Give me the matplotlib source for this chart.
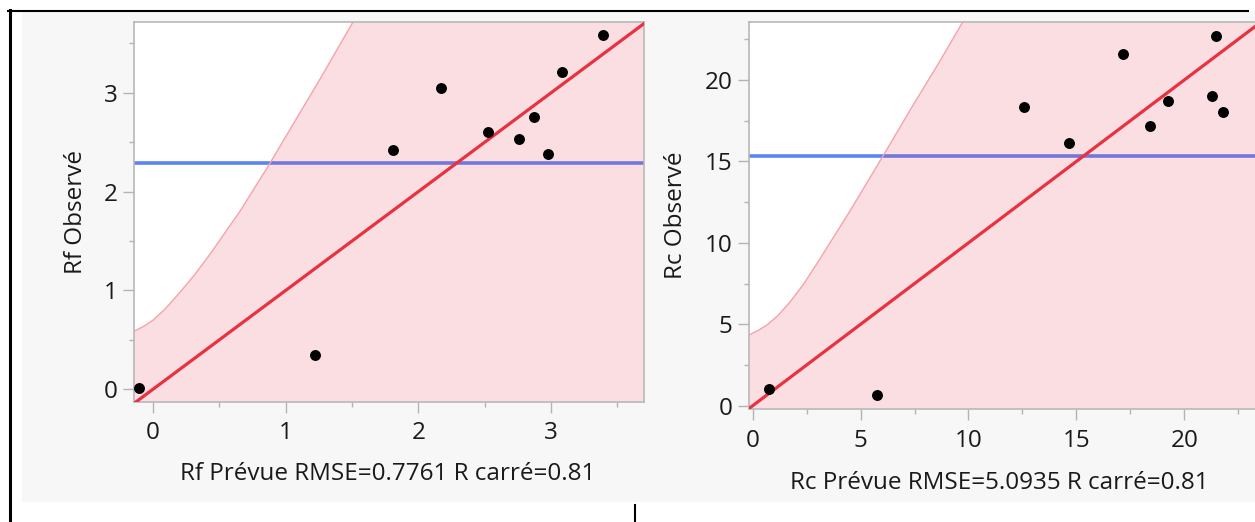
import numpy as np
import matplotlib
matplotlib.use("Agg")
from matplotlib import pyplot as plt
from matplotlib.ticker import MultipleLocator
from matplotlib.lines import Line2D
from matplotlib.patches import Rectangle

plt.rcParams['font.family'] = ['Open Sans', 'DejaVu Sans']

# Rf panel (predicted vs observed)
rf_pred = [-0.106, 1.219, 1.811, 2.169, 2.525, 2.757, 2.870, 2.977, 3.083, 3.392]
rf_obs = [0.013, 0.344, 2.420, 3.050, 2.602, 2.534, 2.751, 2.376, 3.206, 3.581]
# upper confidence curve
rf_band_x = [-0.2, -0.143, -0.068, 0.0, 0.090, 0.204, 0.317, 0.430, 0.656,
             0.882, 1.070, 1.259, 1.507, 1.711]
rf_band_hi = [0.549, 0.587, 0.638, 0.699, 0.810, 0.982, 1.164, 1.367, 1.802,
              2.288, 2.713, 3.139, 3.716, 4.197]
rf_xlabel = "Rf Prévue RMSE=0.7761 R carré=0.81"
rf_ylabel = "Rf Observé"

# Rc panel
rc_pred = [0.755, 5.746, 12.59, 14.66, 17.15, 18.40, 19.26, 21.27, 21.78, 21.47]
rc_obs = [1.007, 0.675, 18.34, 16.15, 21.62, 17.19, 18.73, 19.02, 18.02, 22.72]
rc_band_x = [-0.4, -0.171, 0.246, 0.663, 1.173, 1.728, 2.331, 3.026, 4.509,
             6.038, 7.382, 8.679, 9.652, 10.996]
rc_band_hi = [4.20, 4.341, 4.618, 4.956, 5.539, 6.368, 7.412, 8.824, 11.956,
              15.333, 18.342, 21.166, 23.377, 26.57]
rc_xlabel = "Rc Prévue RMSE=5.0935 R carré=0.81"
rc_ylabel = "Rc Observé"

W, H = 1255, 522
fig = plt.figure(figsize=(W / 100, H / 100), dpi=100)
fig.patch.set_facecolor('white')


def px_box(left, top, right, bottom):
    return [left / W, 1 - bottom / H, (right - left) / W, (bottom - top) / H]


# gray report background and black frame lines
fig.add_artist(Rectangle((22 / W, 1 - 502 / H), (W - 22) / W, (502 - 11) / H,
                         transform=fig.transFigure, facecolor='#f7f7f7', edgecolor='none', zorder=0))
fig.add_artist(Line2D([8 / W, 1248 / W], [1 - 10.5 / H, 1 - 10.5 / H], transform=fig.transFigure,
                      color='black', lw=1.5))
fig.add_artist(Line2D([9.5 / W, 9.5 / W], [1 - 10 / H, 0], transform=fig.transFigure,
                      color='black', lw=2.2))
fig.add_artist(Line2D([635 / W, 635 / W], [1 - 505 / H, 0], transform=fig.transFigure,
                      color='black', lw=1.5))


def panel(ax, pred, obs, band_x, band_hi, xlim, ylim, major, xlabel, ylabel, xl_pos, yl_pos):
    ax.set_facecolor('white')
    ax.set_xlim(*xlim)
    ax.set_ylim(*ylim)

    # mean line sits under the pink band
    ax.axhline(np.mean(obs), color='#5a84f5', lw=2.6, zorder=1)

    bx = np.r_[band_x, xlim[1] + 5, xlim[1] + 5, band_x[0]]
    by = np.r_[band_hi, band_hi[-1], ylim[0] - 5, ylim[0] - 5]
    ax.fill(bx, by, color='#ed3d54', alpha=0.17, lw=0, zorder=2)
    ax.plot(band_x, band_hi, color='#f5a3ac', lw=1.0, zorder=2)

    ax.axline((0, 0), slope=1, color='#e8323f', lw=2.3, zorder=3)
    ax.scatter(pred, obs, s=62, color='black', zorder=4, linewidths=0)

    ax.xaxis.set_major_locator(MultipleLocator(major))
    ax.xaxis.set_minor_locator(MultipleLocator(major / 2))
    ax.yaxis.set_major_locator(MultipleLocator(major))
    ax.yaxis.set_minor_locator(MultipleLocator(major / 2))
    ax.tick_params(which='major', length=8, width=1, color='#b4b4b4', labelsize=17.5,
                   labelcolor='#1a1a1a')
    ax.tick_params(axis='x', which='major', pad=6)
    ax.tick_params(axis='y', which='major', pad=4)
    ax.tick_params(which='minor', length=3.8, width=1, color='#b4b4b4')
    for sp in ax.spines.values():
        sp.set_color('#b8b8b8')
        sp.set_linewidth(1.2)

    ax.set_xlabel(xlabel, fontsize=17.5, color='#1a1a1a', va='baseline')
    ax.xaxis.set_label_coords(*xl_pos)
    ax.set_ylabel(ylabel, fontsize=17.5, color='#1a1a1a', va='baseline')
    ax.yaxis.set_label_coords(*yl_pos)


ax1 = fig.add_axes(px_box(134, 22, 644, 402))
panel(ax1, rf_pred, rf_obs, rf_band_x, rf_band_hi,
      (-0.143, 3.70), (-0.129, 3.716), 1, rf_xlabel, rf_ylabel,
      (0.497, -0.205), (-0.1025, 0.5))

ax2 = fig.add_axes(px_box(749, 22, 1257, 409.3))
panel(ax2, rc_pred, rc_obs, rc_band_x, rc_band_hi,
      (-0.17, 23.37), (-0.22, 23.56), 5, rc_xlabel, rc_ylabel,
      (0.492, -0.2066), (-0.1325, 0.5))

fig.savefig('out.png', dpi=100)
